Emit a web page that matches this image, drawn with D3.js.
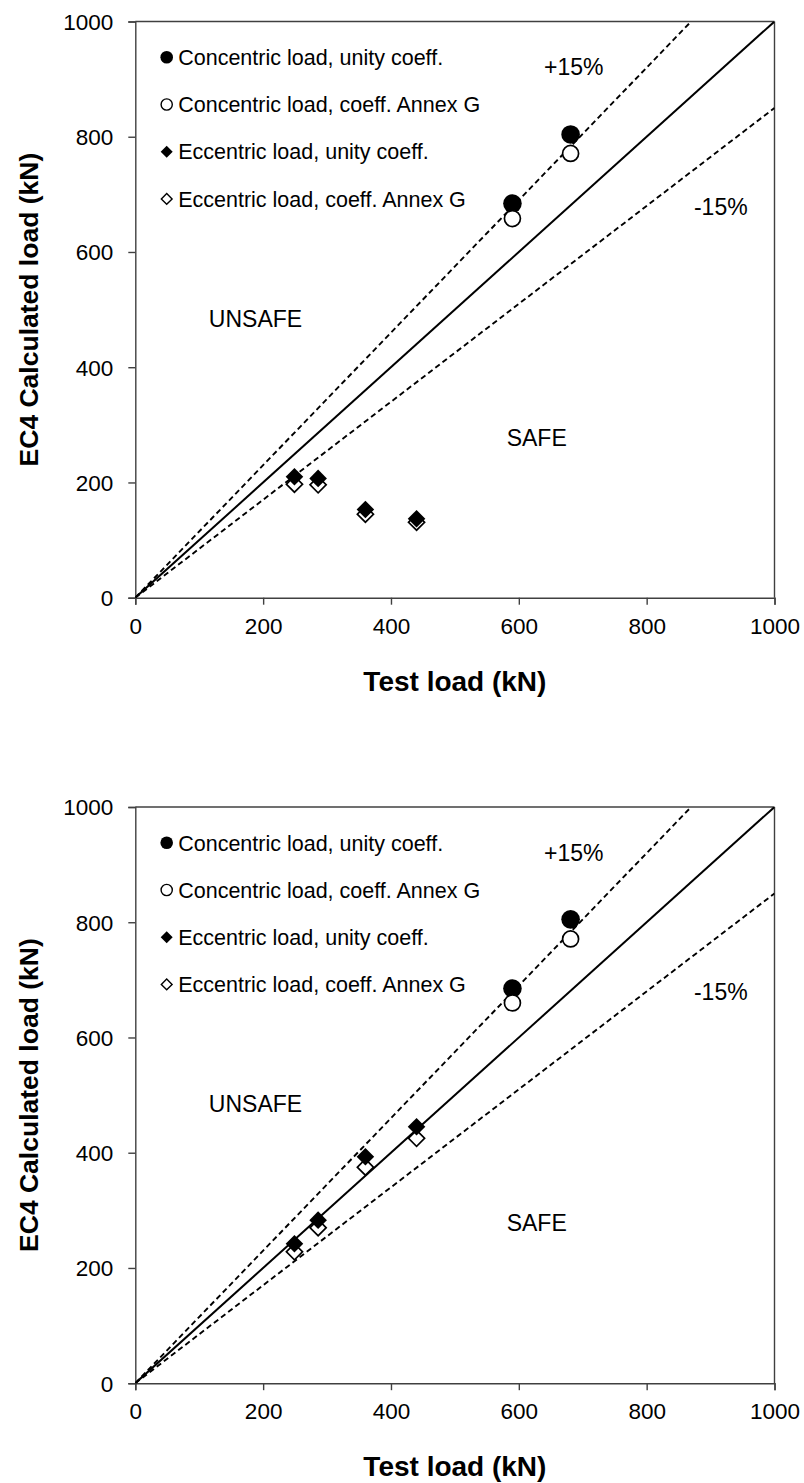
<!DOCTYPE html>
<html>
<head>
<meta charset="utf-8">
<script src="https://cdn.jsdelivr.net/npm/d3@7"></script>
<style>
  html, body { margin: 0; padding: 0; background: #fff; }
  svg { display: block; }
  text { font-family: "Liberation Sans", Arial, sans-serif; fill: #000; }
</style>
</head>
<body>
<svg id="chart" width="804" height="1483"></svg>
<script>
// ---------- data ----------
const tickValues = [0, 200, 400, 600, 800, 1000];
const seriesNames = [
  "Concentric load, unity coeff.",
  "Concentric load, coeff. Annex G",
  "Eccentric load, unity coeff.",
  "Eccentric load, coeff. Annex G"
];
const concX = [590, 681];
const eccX = [249, 286, 360, 440];

// Top chart
const concUnityTop = [684, 804];
const concAnnexTop = [658, 771];
const eccUnityTop = [210, 207, 153, 137];
const eccAnnexTop = [197, 196, 145, 131];

// Bottom chart
const concUnityBottom = [685, 805];
const concAnnexBottom = [660, 771];
const eccUnityBottom = [242, 283, 393, 445];
const eccAnnexBottom = [228, 270, 375, 425];

// Reference lines: slope, dashed?
const refSlopes = [1, 1.15, 0.85];
const refDashed = [false, true, true];

// Region labels (data coordinates)
const regionLabels = ["+15%", "-15%", "UNSAFE", "SAFE"];
const regionLabelX = [686, 916, 188, 628];
const regionLabelY = [921, 679, 485, 278];

const xTitle = "Test load (kN)";
const yTitle = "EC4 Calculated load (kN)";

// ---------- drawing ----------
const svg = d3.select("#chart");
const W = 639.2, H = 576.2, left = 135.3;

function drawChart(top, cu, ca, eu, ea, idx) {
  const g = svg.append("g").attr("transform", `translate(${left},${top})`);
  const x = d3.scaleLinear().domain([0, 1000]).range([0, W]);
  const y = d3.scaleLinear().domain([0, 1000]).range([H, 0]);

  const clipId = "clip" + idx;
  g.append("clipPath").attr("id", clipId)
    .append("rect").attr("width", W).attr("height", H);

  // box (top & right)
  g.append("line").attr("x1", 0).attr("x2", W).attr("y1", 0).attr("y2", 0)
    .attr("stroke", "#404040").attr("stroke-width", 1.4);
  g.append("line").attr("x1", W).attr("x2", W).attr("y1", 0).attr("y2", H)
    .attr("stroke", "#404040").attr("stroke-width", 1.4);

  // axes
  const xAxis = d3.axisBottom(x).tickValues(tickValues).tickSize(7).tickPadding(13).tickFormat(d3.format("d"));
  const yAxis = d3.axisLeft(y).tickValues(tickValues).tickSize(7).tickPadding(15).tickFormat(d3.format("d"));
  const gx = g.append("g").attr("transform", `translate(0,${H})`).call(xAxis);
  const gy = g.append("g").call(yAxis);
  [gx, gy].forEach(a => {
    a.select(".domain").attr("stroke", "#404040").attr("stroke-width", 1.4);
    a.selectAll(".tick line").attr("stroke", "#404040").attr("stroke-width", 1.4);
    a.selectAll(".tick text").attr("font-size", 22.5)
      .attr("font-family", '"Liberation Sans", Arial, sans-serif').attr("fill", "#000");
  });
  gx.selectAll(".tick text").attr("dy", "0.71em");
  gy.selectAll(".tick text").attr("dy", "0.35em");

  // reference lines
  const lines = g.append("g").attr("clip-path", `url(#${clipId})`);
  refSlopes.forEach((s, i) => {
    const xe = Math.min(1000, 1000 / s);
    lines.append("line")
      .attr("x1", x(0)).attr("y1", y(0))
      .attr("x2", x(xe)).attr("y2", y(s * xe))
      .attr("stroke", "#000")
      .attr("stroke-width", refDashed[i] ? 1.9 : 2)
      .attr("stroke-dasharray", refDashed[i] ? "5.5,3.5" : null);
  });

  // region labels
  regionLabels.forEach((t, i) => {
    g.append("text").attr("x", x(regionLabelX[i])).attr("y", y(regionLabelY[i]))
      .attr("text-anchor", "middle").attr("dy", "0.36em")
      .attr("font-size", 23).text(t);
  });

  const diamond = d3.symbol().type(d3.symbolSquare);

  // filled circles
  g.append("g").selectAll("circle").data(concX.map((v, i) => [v, cu[i]])).join("circle")
    .attr("cx", d => x(d[0])).attr("cy", d => y(d[1])).attr("r", 9.3)
    .attr("fill", "#000");
  // open circles
  g.append("g").selectAll("circle").data(concX.map((v, i) => [v, ca[i]])).join("circle")
    .attr("cx", d => x(d[0])).attr("cy", d => y(d[1])).attr("r", 8)
    .attr("fill", "#fff").attr("stroke", "#000").attr("stroke-width", 1.7);
  // open diamonds
  g.append("g").selectAll("path").data(eccX.map((v, i) => [v, ea[i]])).join("path")
    .attr("d", diamond.size(130))
    .attr("transform", d => `translate(${x(d[0])},${y(d[1])}) rotate(45)`)
    .attr("fill", "#fff").attr("stroke", "#000").attr("stroke-width", 1.7);
  // filled diamonds
  g.append("g").selectAll("path").data(eccX.map((v, i) => [v, eu[i]])).join("path")
    .attr("d", diamond.size(155))
    .attr("transform", d => `translate(${x(d[0])},${y(d[1])}) rotate(45)`)
    .attr("fill", "#000");

  // legend
  const leg = g.append("g").attr("transform", "translate(31.4,35.8)");
  const rowGap = 47.2;
  seriesNames.forEach((name, i) => {
    const row = leg.append("g").attr("transform", `translate(0,${i * rowGap})`);
    if (i === 0) row.append("circle").attr("r", 6.3).attr("fill", "#000");
    if (i === 1) row.append("circle").attr("r", 5.6).attr("fill", "#fff").attr("stroke", "#000").attr("stroke-width", 1.4);
    if (i === 2) row.append("path").attr("d", d3.symbol().type(d3.symbolSquare).size(72)()).attr("transform", "rotate(45)").attr("fill", "#000");
    if (i === 3) row.append("path").attr("d", d3.symbol().type(d3.symbolSquare).size(58)()).attr("transform", "rotate(45)").attr("fill", "#fff").attr("stroke", "#000").attr("stroke-width", 1.4);
    row.append("text").attr("x", 11.5).attr("dy", "0.36em").attr("font-size", 21.5).text(name);
  });

  // axis titles
  g.append("text").attr("x", W / 2).attr("y", H + 93)
    .attr("text-anchor", "middle").attr("font-weight", "bold").attr("font-size", 28)
    .text(xTitle);
  g.append("text").attr("transform", `translate(${28 - left},${H / 2}) rotate(-90)`)
    .attr("dy", "0.36em").attr("text-anchor", "middle")
    .attr("font-weight", "bold").attr("font-size", 26.5)
    .text(yTitle);
}

drawChart(21.5, concUnityTop, concAnnexTop, eccUnityTop, eccAnnexTop, 0);
drawChart(807, concUnityBottom, concAnnexBottom, eccUnityBottom, eccAnnexBottom, 1);
</script>
</body>
</html>
